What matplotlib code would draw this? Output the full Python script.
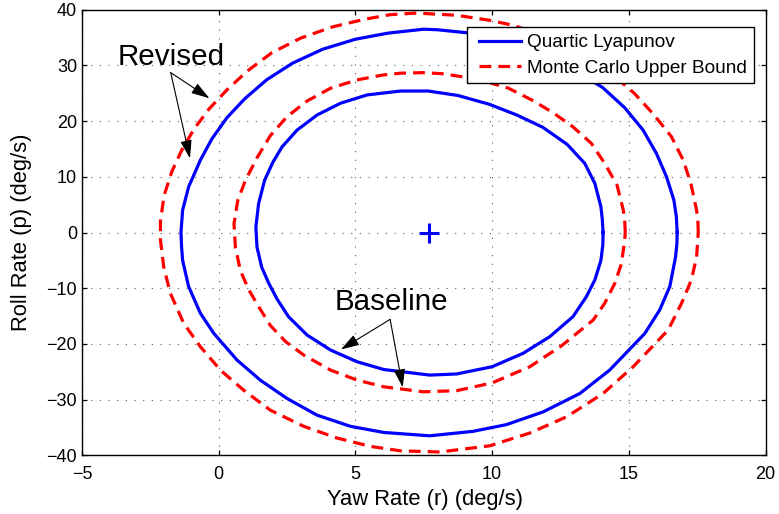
import numpy as np
import matplotlib
matplotlib.use("Agg")
import matplotlib.pyplot as plt
from matplotlib.legend_handler import HandlerLine2D

plt.rcParams['font.family'] = ['Liberation Sans', 'DejaVu Sans']

# ---------------- data ----------------
# Quartic Lyapunov level set, baseline (inner, solid blue)
quartic_base_x = [14.06, 14.03, 13.98, 13.76, 13.39, 12.75, 11.85, 10.90, 9.91, 8.75, 7.66, 6.65,
                  5.43, 4.45, 3.60, 2.87, 2.32, 1.98, 1.68, 1.46, 1.36, 1.40, 1.57, 1.83,
                  2.13, 2.55, 3.23, 4.09, 5.06, 6.04, 7.72, 8.70, 10.00, 11.13, 12.11, 12.96,
                  13.45, 13.76, 13.98, 14.05]
quartic_base_y = [0.0, 2.4, 4.6, 8.8, 12.4, 15.8, 18.9, 21.1, 23.0, 24.6, 25.4, 25.4,
                  24.7, 23.2, 21.1, 18.4, 15.4, 12.6, 9.4, 5.2, 1.0, -2.6, -6.2, -9.1,
                  -11.9, -15.1, -18.4, -21.1, -23.2, -24.6, -25.6, -25.4, -24.1, -21.7, -18.7, -15.1,
                  -11.5, -8.5, -5.0, -2.2]

# Monte Carlo upper bound, baseline (inner, dashed red)
mc_base_x = [14.87, 14.85, 14.80, 14.57, 14.12, 13.63, 12.95, 12.20, 11.45, 10.60, 9.50, 8.20,
             7.48, 6.65, 6.04, 5.06, 4.09, 3.23, 2.50, 1.89, 1.40, 0.98, 0.70, 0.56,
             0.61, 0.79, 1.10, 1.46, 1.89, 2.45, 3.11, 4.09, 5.06, 6.04, 7.48, 8.70,
             10.00, 11.38, 12.55, 13.70, 14.12, 14.49, 14.73, 14.85]
mc_base_y = [0.0, 2.2, 4.0, 8.5, 12.4, 16.0, 19.0, 21.6, 23.8, 25.9, 27.5, 28.5,
             28.7, 28.6, 28.3, 27.4, 25.9, 23.6, 20.8, 17.4, 13.4, 9.4, 5.8, 1.6,
             -2.6, -6.8, -10.3, -13.3, -16.7, -19.6, -22.0, -24.7, -26.5, -27.7, -28.6, -28.4,
             -27.0, -24.1, -20.3, -15.7, -12.7, -9.1, -5.6, -1.4]

# Quartic Lyapunov level set, revised (outer, solid blue)
quartic_rev_x = [16.77, 16.74, 16.65, 16.38, 16.01, 15.52, 14.85, 14.05, 13.00, 11.90, 10.50, 9.20,
                 8.00, 7.50, 6.20, 5.00, 3.80, 2.70, 1.75, 0.95, 0.30, -0.25, -0.67, -1.10,
                 -1.32, -1.38, -1.36, -1.32, -1.10, -0.67, -0.18, 0.67, 1.52, 2.50, 3.60, 4.82,
                 6.04, 7.72, 9.30, 10.52, 11.87, 13.21, 14.30, 15.59, 16.13, 16.50, 16.71, 16.76]
quartic_rev_y = [0.0, 2.8, 5.8, 10.0, 14.2, 18.4, 22.4, 26.0, 29.2, 31.8, 34.3, 35.8,
                 36.4, 36.5, 35.8, 34.7, 32.9, 30.4, 27.4, 24.0, 20.6, 16.8, 13.0, 8.2,
                 4.0, 0.0, -2.4, -5.0, -9.7, -14.5, -18.1, -22.9, -26.5, -29.8, -32.8, -34.8,
                 -35.9, -36.5, -35.7, -34.5, -32.2, -28.9, -24.7, -18.1, -13.9, -9.7, -4.4, -2.0]

# Monte Carlo upper bound, revised (outer, dashed red)
mc_rev_x = [17.54, 17.53, 17.48, 17.27, 16.99, 16.56, 15.89, 15.20, 14.20, 13.10, 11.90, 10.77,
            9.91, 8.70, 7.23, 6.26, 5.35, 4.15, 3.00, 1.95, 1.05, 0.30, -0.35, -0.90,
            -1.35, -1.71, -2.00, -2.13, -2.13, -2.01, -1.77, -1.28, -0.67, 0.06, 0.91, 1.89,
            3.11, 4.33, 5.55, 6.65, 8.09, 9.91, 11.38, 12.72, 14.06, 15.16, 16.44, 16.93,
            17.29, 17.48, 17.52]
mc_rev_y = [0.0, 1.8, 4.0, 8.8, 13.0, 17.2, 21.3, 25.0, 29.2, 32.5, 35.3, 37.2,
            38.1, 39.0, 39.4, 39.1, 38.3, 36.9, 34.9, 32.3, 29.0, 25.6, 22.2, 18.6,
            14.8, 11.0, 6.6, 2.0, -1.4, -6.2, -10.9, -16.3, -20.5, -24.7, -28.3, -31.9,
            -34.8, -36.9, -38.4, -39.2, -39.4, -38.3, -36.0, -33.1, -28.9, -24.1, -17.5, -12.7,
            -8.5, -4.4, -1.6]

equilibrium_x = [7.71]
equilibrium_y = [0.0]

x_ticks = [-5, 0, 5, 10, 15, 20]
y_ticks = [-40, -30, -20, -10, 0, 10, 20, 30, 40]

legend_labels = ["Quartic Lyapunov", "Monte Carlo Upper Bound"]
x_label = "Yaw Rate (r) (deg/s)"
y_label = "Roll Rate (p) (deg/s)"

revised_text = ("Revised", -1.73, 30.1)
revised_start = (-1.755, 28.7)
revised_targets = [(-0.34, 24.1), (-1.05, 13.3)]
baseline_text = ("Baseline", 6.30, -14.0)
baseline_start = (6.27, -15.6)
baseline_targets = [(4.47, -21.0), (6.73, -27.8)]

# ---------------- figure ----------------
W, H = 779, 514
fig = plt.figure(figsize=(W / 100, H / 100), dpi=100)
ax_l, ax_r, ax_t, ax_b = 82, 765.5, 9.7, 455.3
ax = fig.add_axes([ax_l / W, 1 - ax_b / H, (ax_r - ax_l) / W, (ax_b - ax_t) / H])

def closed(a):
    return np.append(np.asarray(a, float), a[0])

lw = 2.3
dash = (0, (3.7, 2.2))
l1, = ax.plot(closed(quartic_base_x), closed(quartic_base_y), color=(0, 0, 1), lw=lw,
              solid_joinstyle='round', zorder=3)
l2, = ax.plot(closed(mc_base_x), closed(mc_base_y), color=(1, 0, 0), lw=lw, linestyle=dash,
              zorder=3)
ax.plot(closed(quartic_rev_x), closed(quartic_rev_y), color=(0, 0, 1), lw=lw,
        solid_joinstyle='round', zorder=3)
ax.plot(closed(mc_rev_x), closed(mc_rev_y), color=(1, 0, 0), lw=lw, linestyle=dash, zorder=3)
ax.plot(equilibrium_x, equilibrium_y, linestyle='none', marker='+', color=(0, 0, 1),
        markersize=14, markeredgewidth=2.2, zorder=4)

ax.set_xlim(x_ticks[0], x_ticks[-1])
ax.set_ylim(y_ticks[0], y_ticks[-1])
ax.set_xticks(x_ticks)
ax.set_yticks(y_ticks)
ax.tick_params(direction='in', length=3.8, width=0.9, top=True, right=True,
               labelsize=13, colors='black')
ax.tick_params(axis='x', pad=8)
ax.tick_params(axis='y', pad=3.6)
for s in ax.spines.values():
    s.set_linewidth(1.0)
ax.grid(True, color='0.35', linestyle=(0, (1, 6.8)), linewidth=0.8)
ax.set_axisbelow(True)

# annotations
arrow_kw = dict(arrowstyle='-|>,head_length=0.8,head_width=0.25', color='black', lw=0.8,
                shrinkA=0, shrinkB=0, mutation_scale=14)
for txt, start, targets in [(revised_text, revised_start, revised_targets),
                            (baseline_text, baseline_start, baseline_targets)]:
    ax.text(txt[1], txt[2], txt[0], fontsize=21.3, ha='center', va='baseline', zorder=5)
    for tgt in targets:
        ax.annotate('', xy=tgt, xytext=start, arrowprops=arrow_kw, zorder=5)

# legend
leg = ax.legend([l1, l2], legend_labels, loc='upper right',
                bbox_to_anchor=((754 - ax_l) / (ax_r - ax_l), (ax_b - 27.3) / (ax_b - ax_t)),
                borderaxespad=0, fontsize=13.7, numpoints=2,
                handler_map={l1: HandlerLine2D(numpoints=2, marker_pad=0.3),
                             l2: HandlerLine2D(numpoints=2, marker_pad=0.3)},
                handlelength=2.81, handletextpad=0.02, borderpad=0.35, labelspacing=0.43,
                fancybox=False, shadow=False, framealpha=1, edgecolor='black')
leg.get_frame().set_linewidth(1.0)
leg.set_zorder(6)

# axis labels
ax.set_xlabel(x_label, fontsize=15.8)
ax.xaxis.label.set_va('baseline')
ax.xaxis.set_label_coords((425 - ax_l) / (ax_r - ax_l), (ax_b - 504.7) / (ax_b - ax_t))
fig.text(22 / W, 1 - 232.5 / H, y_label, fontsize=15.8, rotation=90, ha='center', va='center')

fig.savefig("out.png", dpi=100)
